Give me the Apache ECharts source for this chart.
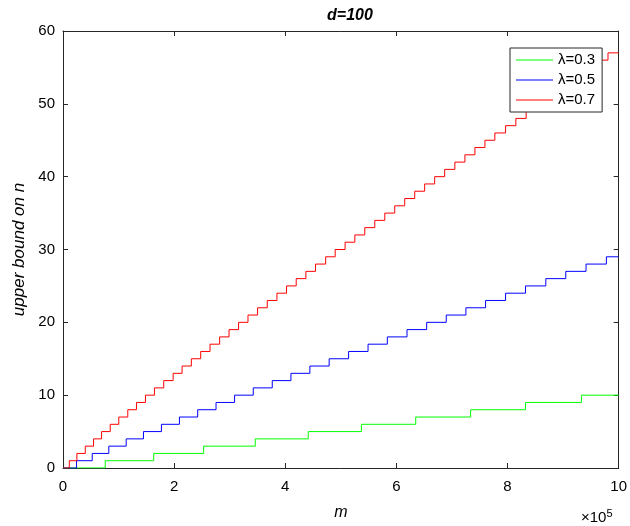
<!DOCTYPE html>
<html>
<head>
<meta charset="utf-8">
<script src="https://cdn.jsdelivr.net/npm/echarts@6/dist/echarts.min.js"></script>
<style>
  html, body { margin: 0; padding: 0; background: #fff; }
  #chart { width: 630px; height: 526px; }
</style>
</head>
<body>
<div id="chart"></div>
<script>
// m (×10^5) at which each curve steps up by one
const greenJumps = [0.76, 1.633, 2.531, 3.46, 4.413, 5.37, 6.348, 7.336, 8.324, 9.33];
const blueJumps = [0.244, 0.526, 0.825, 1.137, 1.448, 1.771, 2.095, 2.424, 2.754, 3.088,
  3.424, 3.766, 4.102, 4.443, 4.79, 5.14, 5.49, 5.837, 6.191, 6.545,
  6.897, 7.251, 7.605, 7.965, 8.324, 8.689, 9.048, 9.413, 9.779];
const redJumps = [0.113, 0.25, 0.401, 0.55, 0.694, 0.85, 1.004, 1.166, 1.322, 1.484,
  1.646, 1.813, 1.982, 2.143, 2.31, 2.478, 2.646, 2.819, 2.988, 3.16,
  3.329, 3.502, 3.676, 3.85, 4.023, 4.197, 4.371, 4.544, 4.727, 4.898,
  5.077, 5.252, 5.431, 5.611, 5.791, 5.97, 6.15, 6.33, 6.509, 6.689,
  6.869, 7.052, 7.233, 7.413, 7.593, 7.772, 7.965, 8.15, 8.335, 8.52,
  8.703, 8.888, 9.071, 9.256, 9.439, 9.624, 9.808];
const seriesNames = ["λ=0.3", "λ=0.5", "λ=0.7"];
const seriesColors = ["#00ff00", "#0000ff", "#ff0000"];
const xMax = 10;

// points (m, n) for a step line starting at 0
const toSteps = (jumps) => {
  const pts = [[0, 0]];
  jumps.forEach((x, i) => pts.push([x, i + 1]));
  pts.push([xMax, jumps.length]);
  return pts;
};

const axisColor = "#262626";
const font = "Liberation Sans, Arial, Helvetica, sans-serif";

const chart = echarts.init(document.getElementById("chart"));
const grid = { left: 63, right: 9, top: 31, bottom: 56 };

const baseAxis = {
  type: "value",
  axisLine: { show: true, onZero: false, lineStyle: { color: axisColor, width: 1 } },
  axisTick: { show: true, inside: true, length: 5, lineStyle: { color: axisColor } },
  splitLine: { show: false },
};

const option = {
  animation: false,
  backgroundColor: "#fff",
  title: {
    text: "d=100",
    left: 345,
    top: 3,
    textAlign: "center",
    textStyle: { fontFamily: font, fontSize: 16, fontWeight: "bold", fontStyle: "italic", color: "#000" },
  },
  grid: grid,
  legend: {
    orient: "vertical",
    left: 510,
    top: 48,
    icon: "rect",
    itemWidth: 37,
    itemHeight: 1,
    itemGap: 4,
    padding: [4, 7, 4, 6],
    borderColor: axisColor,
    borderWidth: 1,
    backgroundColor: "#fff",
    data: seriesNames,
    textStyle: { fontFamily: font, fontSize: 15, lineHeight: 16, color: "#000" },
  },
  xAxis: [
    Object.assign({}, baseAxis, {
      min: 0, max: xMax, interval: 2,
      axisLabel: { fontFamily: font, fontSize: 15, color: "#000", margin: 11 },
      name: "m",
      nameLocation: "middle",
      nameGap: 37,
      nameTextStyle: { fontFamily: font, fontSize: 16, fontStyle: "italic", color: "#000" },
    }),
    Object.assign({}, baseAxis, {
      position: "top", min: 0, max: xMax, interval: 2,
      axisLabel: { show: false },
    }),
  ],
  yAxis: [
    Object.assign({}, baseAxis, {
      min: 0, max: 60, interval: 10,
      axisLabel: { fontFamily: font, fontSize: 15, color: "#000", margin: 8 },
      name: "upper bound on n",
      nameLocation: "middle",
      nameGap: 35,
      nameTextStyle: { fontFamily: font, fontSize: 17, fontStyle: "italic", color: "#000" },
    }),
    Object.assign({}, baseAxis, {
      position: "right", min: 0, max: 60, interval: 10,
      axisLabel: { show: false },
    }),
  ],
  graphic: [
    {
      type: "text",
      left: 581,
      top: 508,
      style: {
        text: "×10{sup|5}",
        fontFamily: font,
        fontSize: 15,
        fill: "#000",
        rich: { sup: { fontSize: 11, verticalAlign: "top", padding: [0, 0, 8, 0], fontFamily: font } },
      },
    },
  ],
  series: [greenJumps, blueJumps, redJumps].map((jumps, i) => ({
    name: seriesNames[i],
    type: "line",
    step: "end",
    symbol: "none",
    xAxisIndex: 0,
    yAxisIndex: 0,
    lineStyle: { color: seriesColors[i], width: 1 },
    itemStyle: { color: seriesColors[i] },
    data: toSteps(jumps),
  })),
};

chart.setOption(option);
</script>
</body>
</html>
